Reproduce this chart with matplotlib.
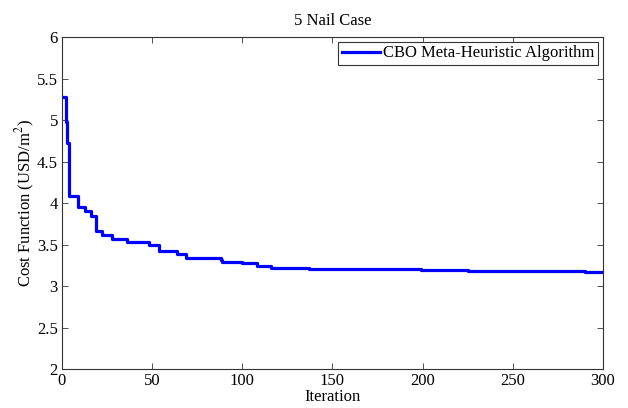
import matplotlib
matplotlib.use("Agg")
import matplotlib.pyplot as plt

plt.rcParams['font.family'] = ['Liberation Serif', 'DejaVu Serif']
plt.rcParams['mathtext.fontset'] = 'stix'

# step points of the convergence curve (iteration, best cost)
iterations = [1, 2, 3, 4, 9, 13, 16, 19, 22, 28, 36, 48, 54, 64, 69, 88, 89,
              100, 108, 116, 137, 164, 199, 225, 262, 290, 300]
cost = [5.28, 4.98, 4.72, 4.08, 3.95, 3.90, 3.84, 3.66, 3.62, 3.57, 3.53, 3.49,
        3.42, 3.39, 3.34, 3.31, 3.29, 3.28, 3.24, 3.215, 3.205, 3.20, 3.19,
        3.185, 3.18, 3.175, 3.175]

xticks = [0, 50, 100, 150, 200, 250, 300]
yticks = [2, 2.5, 3, 3.5, 4, 4.5, 5, 5.5, 6]
ytick_labels = ["2", "2.5", "3", "3.5", "4", "4.5", "5", "5.5", "6"]

fig = plt.figure(figsize=(6.28, 4.08), dpi=100)
ax = fig.add_axes([0.0987, 0.0956, 0.8613, 0.8134])

ax.plot(iterations, cost, drawstyle='steps-post', color='#0000ff',
        linewidth=2.3, label='CBO Meta-Heuristic Algorithm')

ax.set_xlim(0, 300)
ax.set_ylim(2, 6)
ax.set_xticks(xticks)
ax.set_xticklabels([str(t) for t in xticks])
ax.set_yticks(yticks)
ax.set_yticklabels(ytick_labels)
ax.tick_params(direction='in', top=True, right=True, length=4, width=0.6,
               labelsize=12, color='#333333', pad=3)
for s in ax.spines.values():
    s.set_linewidth(0.8)
    s.set_color('#333333')

ax.set_title('5 Nail Case', fontsize=12, pad=9)
ax.set_xlabel('Iteration', fontsize=12, labelpad=0)
ax.set_ylabel('Cost Function (USD/m$^2$)', fontsize=12, labelpad=0)

leg = ax.legend(loc='upper right', fontsize=12, fancybox=False,
                edgecolor='#333333', framealpha=1, borderaxespad=0.3,
                handlelength=2.3, handletextpad=0.2, borderpad=0.2)
leg.get_frame().set_linewidth(0.8)

fig.savefig('out.png', dpi=100)
